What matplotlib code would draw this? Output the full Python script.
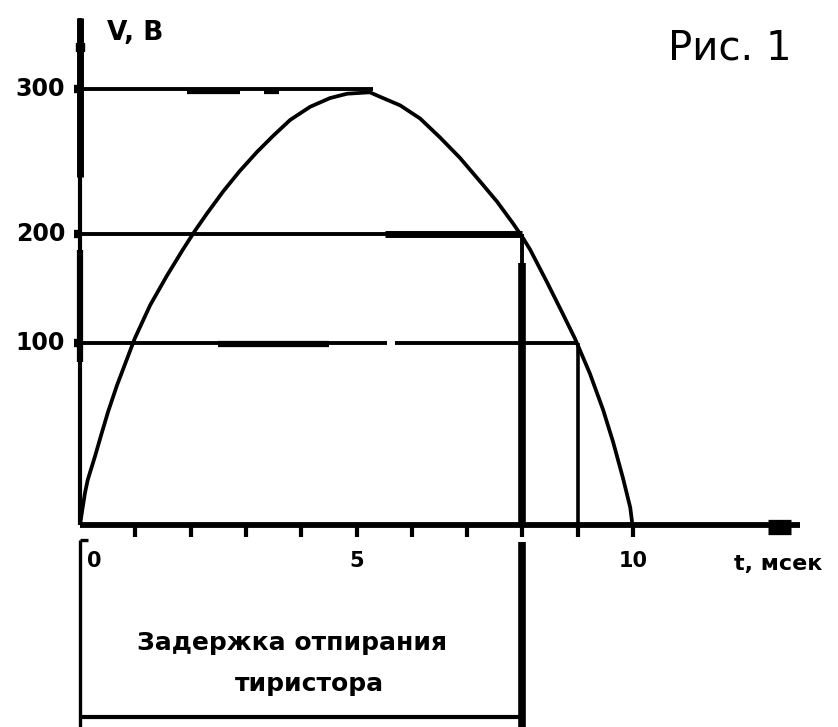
import numpy as np
import matplotlib.pyplot as plt

# curve: t in ms, V in volts
t_curve = [0, 0.04, 0.09, 0.14, 0.27, 0.40, 0.51, 0.67, 0.85, 0.99, 1.27, 1.57,
           1.86, 2.08, 2.30, 2.59, 2.89, 3.20, 3.49, 3.80, 4.16, 4.52, 4.83, 5.24,
           5.42, 5.79, 6.15, 6.51, 6.87, 7.23, 7.54, 7.83, 8.01, 8.14, 8.44, 8.73,
           8.95, 9.22, 9.46, 9.64, 9.82, 9.95, 9.99]
v_curve = [0, 10, 22, 31, 47, 64, 78, 96, 114, 128, 151, 171,
           189, 202, 214, 229, 243, 256, 267, 278, 287, 293, 296, 297,
           294, 288, 279, 266, 252, 236, 222, 207, 197, 189, 167, 145,
           128, 104, 79, 57, 32, 12, 0]

# horizontal levels (where the labels sit) and where each line stops
level_v = [299, 200, 125]
level_labels = ['300', '200', '100']
level_end_t = [5.3, 8.0, 9.0]

x_tick_t = [1, 2, 3, 4, 5, 6, 7, 8, 9, 10]
x_label_t = [0.25, 5, 10]
x_labels = ['0', '5', '10']

delay_end_t = 8.0

fig = plt.figure(figsize=(8.38, 7.27), dpi=100)
ax = fig.add_axes([0, 0, 1, 1])
ax.set_xlim(-80 / 55.3, (838 - 80) / 55.3)
ax.set_ylim((525 - 727) / 1.457, 525 / 1.457)
ax.axis('off')

k = 'black'
ax.plot(t_curve, v_curve, color=k, lw=2.7, solid_capstyle='butt', solid_joinstyle='round')

# axes lines
ax.plot([0, 0], [0, 348], color=k, lw=3.0, solid_capstyle='butt')
ax.plot([0, 0], [239, 348], color=k, lw=5, solid_capstyle='butt')
ax.plot([0, 0], [112, 189], color=k, lw=4.5, solid_capstyle='butt')
ax.plot([0], [328], marker='s', color=k, markersize=6)
ax.plot([0, 13.02], [0, 0], color=k, lw=4.2, solid_capstyle='butt')
ax.plot([12.45, 12.85], [-1.5, -1.5], color=k, lw=11, solid_capstyle='butt')

for t in x_tick_t:
    ax.plot([t, t], [0, -8], color=k, lw=3, solid_capstyle='butt')
for t, lab in zip(x_label_t, x_labels):
    ax.text(t, -25, lab, ha='center', va='center', fontsize=15, fontweight='bold')
ax.text(11.83, -27, 't, мсек', ha='left', va='center', fontsize=16, fontweight='bold')

# level lines
for v, lab, te in zip(level_v, level_labels, level_end_t):
    ax.plot([0, te], [v, v], color=k, lw=2.8, solid_capstyle='butt')
    ax.plot([-0.1, 0], [v, v], color=k, lw=6, solid_capstyle='butt')
    ax.text(-0.27, v, lab, ha='right', va='center', fontsize=17, fontweight='bold')
ax.plot([5.52, 8.0], [level_v[1] - 0.5, level_v[1] - 0.5], color=k, lw=5, solid_capstyle='butt')
ax.plot([1.94, 2.9], [level_v[0] - 1, level_v[0] - 1], color=k, lw=4.5, solid_capstyle='butt')
ax.plot([3.32, 3.6], [level_v[0] - 1, level_v[0] - 1], color=k, lw=4.5, solid_capstyle='butt')
ax.plot([2.5, 4.5], [level_v[2] - 1, level_v[2] - 1], color=k, lw=4.5, solid_capstyle='butt')
ax.plot([5.55, 5.7], [level_v[2], level_v[2]], color='white', lw=4, solid_capstyle='butt')

# verticals at 8 and 9 ms
ax.plot([level_end_t[1], level_end_t[1]], [level_v[1], 180], color=k, lw=2.8, solid_capstyle='butt')
ax.plot([level_end_t[1], level_end_t[1]], [180, 0], color=k, lw=5.5, solid_capstyle='butt')
ax.plot([level_end_t[1], level_end_t[1]], [-12, -138.6], color=k, lw=5.5, solid_capstyle='butt')
ax.plot([level_end_t[2], level_end_t[2]], [level_v[2], -8], color=k, lw=2.6, solid_capstyle='butt')

# delay box
ax.plot([0, 0], [-10, -138.6], color=k, lw=2.4, solid_capstyle='butt')
ax.plot([0, 0.15], [-10, -10], color=k, lw=2.4, solid_capstyle='butt')
ax.plot([0, delay_end_t], [-132, -132], color=k, lw=3, solid_capstyle='butt')
ax.text(3.83, -81, 'Задержка отпирания', ha='center', va='center', fontsize=18, fontweight='bold')
ax.text(4.14, -109, 'тиристора', ha='center', va='center', fontsize=18, fontweight='bold')

ax.text(0.49, 338, 'V, В', ha='left', va='center', fontsize=19, fontweight='bold')
ax.text(11.75, 327, 'Рис. 1', ha='center', va='center', fontsize=29)

fig.savefig('out.png', dpi=100)
